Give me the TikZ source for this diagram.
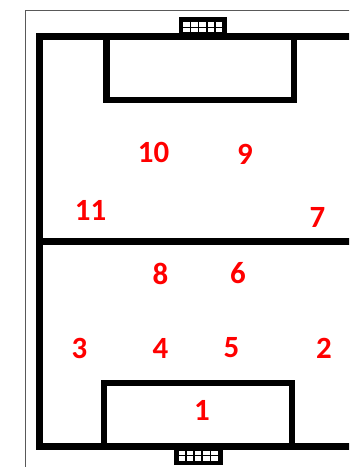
\documentclass[tikz,border=0pt]{standalone}
\usepackage{fontspec}
\setmainfont{Carlito}
\begin{document}
\begin{tikzpicture}[x=1bp,y=-1bp,
  fieldline/.style={line width=6.5bp, line join=miter, line cap=butt},
  player/.style={text=red, font=\fontsize{31}{31}\selectfont\bfseries, inner sep=0pt, anchor=center},
  goalframe/.style={fill=black},
  netcell/.style={fill=white}]
\useasboundingbox (0,0) rectangle (349,467);
\clip (0,0) rectangle (349,467);
\fill[white] (0,0) rectangle (349,467);
% page frame
\draw[line width=1bp, black!65] (25.5,480) -- (25.5,10.5) -- (360,10.5);
% field outline
\draw[fieldline] (360,36.5) -- (39.5,36.5) -- (39.5,446.5) -- (360,446.5);
% halfway line
\draw[fieldline] (39.5,241.5) -- (360,241.5);
% penalty boxes
\draw[fieldline] (106.5,36.5) -- (106.5,100) -- (294,100) -- (294,36.5);
\draw[fieldline] (104,446.5) -- (104,383) -- (292,383) -- (292,446.5);
% top goal
\fill[goalframe] (178.5,17) rectangle (227,34);
\foreach \i in {0,...,4} {
  \fill[netcell] (183+\i*8.2,22.5) rectangle (189.5+\i*8.2,27);
  \fill[netcell] (183+\i*8.2,28.2) rectangle (189.5+\i*8.2,32.5);
}
% bottom goal
\fill[goalframe] (174,449) rectangle (222.5,464.5);
\foreach \i in {0,...,4} {
  \fill[netcell] (178.5+\i*8.2,450.5) rectangle (185+\i*8.2,455);
  \fill[netcell] (178.5+\i*8.2,456.2) rectangle (185+\i*8.2,460.5);
}
% players
\node[player] (p1) at (202,410.5) {1};
\node[player] (p2) at (324,348) {2};
\node[player] (p3) at (79.5,348) {3};
\node[player] (p4) at (160.5,348) {4};
\node[player] (p5) at (231.5,348) {5};
\node[player] (p6) at (238,273.5) {6};
\node[player] (p7) at (317.5,217) {7};
\node[player] (p8) at (160.5,273.5) {8};
\node[player] (p9) at (245,154) {9};
\node[player] (p10) at (153.5,152.5) {10};
\node[player] (p11) at (90.5,210) {11};
\end{tikzpicture}
\end{document}
